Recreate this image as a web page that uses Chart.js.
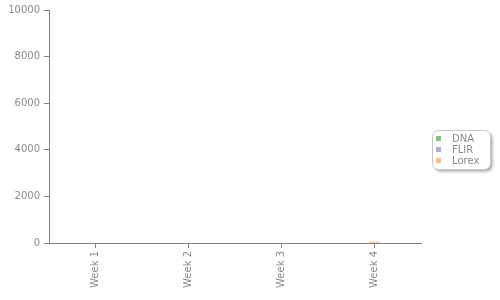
<!DOCTYPE html>
<html>
<head>
<meta charset="utf-8">
<script src="https://cdn.jsdelivr.net/npm/chart.js@4"></script>
<style>
html,body{margin:0;padding:0;background:#fff;}
#wrap{width:500px;height:300px;position:relative;}
</style>
</head>
<body>
<div id="wrap"><canvas id="c" width="500" height="300"></canvas></div>
<script>
const categories = ["Week 1", "Week 2", "Week 3", "Week 4"];
const seriesNames = ["DNA", "FLIR", "Lorex"];
const dnaValues = [null, null, null, null];
const flirValues = [null, null, null, null];
const lorexValues = [null, null, null, 40];
const yTicks = [0, 2000, 4000, 6000, 8000, 10000];
const colors = ["#7fc47f", "#b3a9d6", "#f9bf86"];

const FONT = "DejaVu Sans, Verdana, sans-serif";
const TXT = "#8a8a8a";
const AX = "#808080";

const legendBox = {
  id: 'legendBox',
  afterDraw(chart) {
    const ctx = chart.ctx;
    const x = 432.5, y = 130.5, w = 58, h = 39, r = 6;
    ctx.save();
    ctx.shadowColor = 'rgba(0,0,0,0.35)';
    ctx.shadowOffsetX = 2; ctx.shadowOffsetY = 2; ctx.shadowBlur = 3;
    ctx.beginPath();
    ctx.roundRect(x, y, w, h, r);
    ctx.fillStyle = '#fff';
    ctx.fill();
    ctx.shadowColor = 'transparent';
    ctx.strokeStyle = '#c8c8c8';
    ctx.lineWidth = 1;
    ctx.stroke();
    ctx.font = '10px ' + FONT;
    ctx.textBaseline = 'middle';
    chart.data.datasets.forEach((ds, i) => {
      const cy = 138.5 + i * 11;
      ctx.fillStyle = ds.backgroundColor;
      ctx.fillRect(436, cy - 2.5, 5, 5);
      ctx.fillStyle = TXT;
      ctx.fillText(ds.label, 452, cy + 0.5);
    });
    ctx.restore();
  }
};

new Chart(document.getElementById('c'), {
  type: 'bar',
  data: {
    labels: categories,
    datasets: [
      { label: seriesNames[0], data: dnaValues, backgroundColor: colors[0] },
      { label: seriesNames[1], data: flirValues, backgroundColor: colors[1] },
      { label: seriesNames[2], data: lorexValues, backgroundColor: colors[2] }
    ]
  },
  options: {
    responsive: false,
    animation: false,
    skipNull: true,
    barThickness: 10,
    layout: { padding: { top: 10, right: 79, left: 0, bottom: 0 } },
    plugins: { legend: { display: false }, tooltip: { enabled: false } },
    scales: {
      x: {
        offset: true,
        border: { display: true, color: AX, width: 1 },
        grid: { display: true, drawOnChartArea: false, drawTicks: true, tickLength: 5, color: AX, offset: false },
        ticks: { color: TXT, font: { family: FONT, size: 10 }, minRotation: 90, maxRotation: 90, padding: 3 },
        afterFit(s) { s.height = 57; }
      },
      y: {
        min: 0, max: 10000,
        afterBuildTicks(s) { s.ticks = yTicks.map(v => ({ value: v })); },
        border: { display: true, color: AX, width: 1 },
        grid: { display: true, drawOnChartArea: false, drawTicks: true, tickLength: 5, color: AX },
        ticks: { color: TXT, font: { family: FONT, size: 10 }, padding: 4, callback: v => String(v) },
        afterFit(s) { s.width = 49; }
      }
    }
  },
  plugins: [legendBox]
});
</script>
</body>
</html>
